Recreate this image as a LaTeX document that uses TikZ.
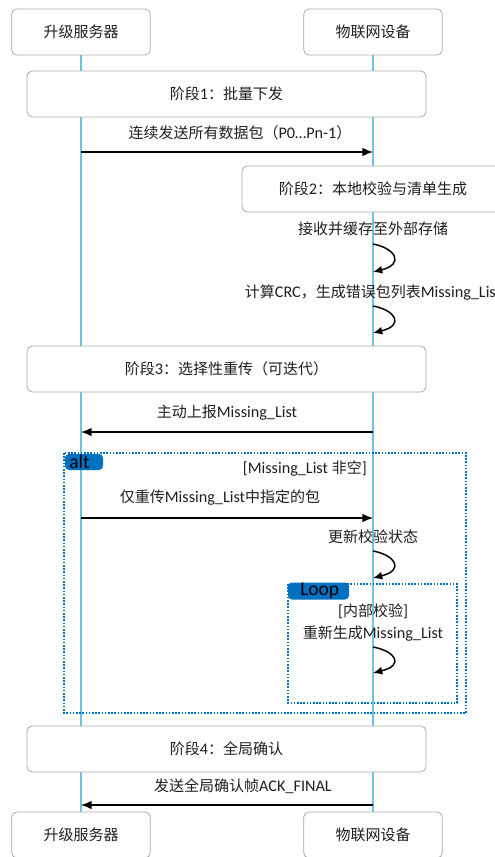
\documentclass[tikz,border=0pt]{standalone}
\usepackage{fontspec}
\setmainfont{Carlito}[Scale=1.08]
\newfontfamily\cjk{Noto Sans CJK SC}
\newcommand{\zh}[1]{{\cjk #1}}
\usetikzlibrary{arrows.meta}
\definecolor{boxgray}{RGB}{170,170,170}
\definecolor{lifeblue}{RGB}{110,195,222}
\definecolor{framblue}{RGB}{0,112,192}
\definecolor{txt}{RGB}{30,30,30}
\tikzset{
  actor/.style={draw=boxgray, fill=white, rounded corners=4pt, line width=0.6pt,
    minimum width=104pt, minimum height=34.5pt, text=txt},
  phase/.style={draw=boxgray, fill=white, rounded corners=4pt, line width=0.6pt,
    minimum width=299.25pt, minimum height=34.5pt, text=txt},
  life/.style={draw=lifeblue, line width=0.8pt},
  msg/.style={draw=black, line width=1.1pt, -{Latex[length=8pt,width=6.5pt]}},
  selfmsg/.style={draw=black, line width=1.1pt, -{Latex[length=7pt,width=6pt]}},
  lbl/.style={text=txt, inner sep=0pt},
  frame/.style={draw=framblue, line width=0.9pt, dash pattern=on 1.2pt off 1.2pt},
  tag/.style={fill=framblue, rounded corners=3pt, text=black, inner sep=0pt},
  tagtext/.style={text=black, inner sep=0pt, font=\fontsize{13.5}{15}\selectfont}
}
\begin{document}
\begin{tikzpicture}[x=0.75pt,y=-0.75pt, font=\fontsize{11.25}{13}\selectfont]
\useasboundingbox (0,0) rectangle (495,857);
% actors
\node[actor] (A) at (81,32) {\zh{升级服务器}};
\node[actor] (B) at (373,32) {\zh{物联网设备}};
\node[actor] (A2) at (81,835) {\zh{升级服务器}};
\node[actor] (B2) at (373,835) {\zh{物联网设备}};
% lifelines
\draw[life] (A.south) -- (A2.north);
\draw[life] (B.south) -- (B2.north);
% phase 1
\node[phase] (P1) at (226.5,94) {\zh{阶段}1\zh{：批量下发}};
\coordinate (s1) at (81,152); \coordinate (d1) at (373,152);
\draw[msg] (s1) -- (d1);
\node[lbl] (t1) at (240,133) {\zh{连续发送所有数据包（}P0…Pn-1\zh{）}};
% phase 2
\node[phase, minimum width=196.5pt] (P2) at (373,189) {\zh{阶段}2\zh{：本地校验与清单生成}};
\node[lbl] (t2) at (373,229) {\zh{接收并缓存至外部存储}};
\coordinate (a2) at (373,244); \coordinate (b2) at (373,272);
\draw[selfmsg] (a2) .. controls (395,248) and (405,264) .. (b2);
\node[lbl] (t3) at (373,293) {\zh{计算}CRC\zh{，生成错误包列表}Missing\_List};
\coordinate (a3) at (373,306); \coordinate (b3) at (373,333);
\draw[selfmsg] (a3) .. controls (395,310) and (405,325) .. (b3);
% phase 3
\node[phase] (P3) at (226.5,369) {\zh{阶段}3\zh{：选择性重传（可迭代）}};
\node[lbl] (t4) at (227,413) {\zh{主动上报}Missing\_List};
\coordinate (s4) at (373,432); \coordinate (d4) at (81,432);
\draw[msg] (s4) -- (d4);
% alt frame
\draw[frame] (64,453) rectangle (466,713);
\node[tag, minimum width=28.5pt, minimum height=12pt] (alt) at (84,462) {};
\node[tagtext, anchor=west] (altt) at (69,462) {alt};
\node[lbl, anchor=east] (g1) at (367,469) {[Missing\_List \zh{非空}]};
\node[lbl] (t5) at (220,498) {\zh{仅重传}Missing\_List\zh{中指定的包}};
\coordinate (s5) at (81,518); \coordinate (d5) at (373,518);
\draw[msg] (s5) -- (d5);
\node[lbl] (t6) at (373,537) {\zh{更新校验状态}};
\coordinate (a6) at (373,551); \coordinate (b6) at (373,578);
\draw[selfmsg] (a6) .. controls (395,555) and (405,570) .. (b6);
% loop frame
\draw[frame] (288,584) rectangle (457,703);
\node[tag, minimum width=45.75pt, minimum height=12.75pt] (loop) at (318.5,591) {};
\node[tagtext, anchor=west] (loopt) at (300,591) {Loop};
\node[lbl] (g2) at (373,611) {[\zh{内部校验}]};
\node[lbl] (t7) at (373,634) {\zh{重新生成}Missing\_List};
\coordinate (a7) at (373,647); \coordinate (b7) at (373,673);
\draw[selfmsg] (a7) .. controls (395,651) and (405,665) .. (b7);
% phase 4
\node[phase] (P4) at (226.5,749) {\zh{阶段}4\zh{：全局确认}};
\node[lbl] (t8) at (243,786) {\zh{发送全局确认帧}ACK\_FINAL};
\coordinate (s8) at (373,805); \coordinate (d8) at (81,805);
\draw[msg] (s8) -- (d8);
\end{tikzpicture}
\end{document}
